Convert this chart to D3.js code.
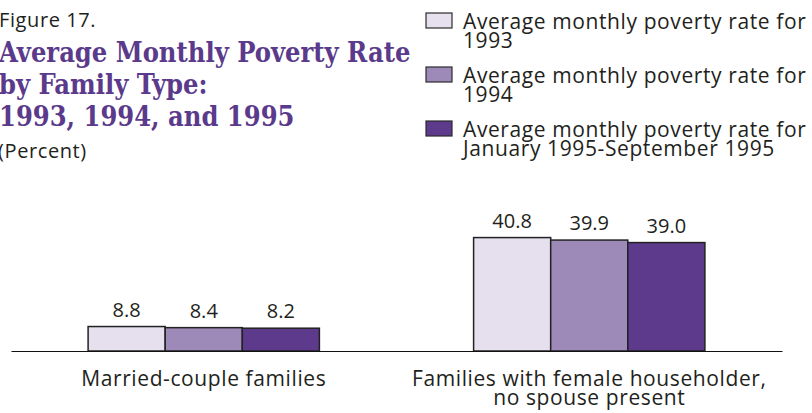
<!DOCTYPE html>
<html>
<head>
<meta charset="utf-8">
<script src="https://cdn.jsdelivr.net/npm/d3@7/dist/d3.min.js"></script>
<style>
  html, body { margin: 0; padding: 0; background: #fff; }
  svg { display: block; }
  .sans { font-family: "Open Sans", "DejaVu Sans", sans-serif; fill: #231f20; letter-spacing: 0.6px; }
  .num { font-family: "Open Sans", "DejaVu Sans", sans-serif; fill: #231f20; }
  .title { font-family: "DejaVu Serif Condensed", "DejaVu Serif", serif; font-stretch: condensed; font-weight: bold; fill: #5b3a8c; }
</style>
</head>
<body>
<div id="chart"></div>
<script>
// data
const categories = ['Married-couple families', 'Families with female householder,\nno spouse present'];
const seriesNames = [
  'Average monthly poverty rate for\n1993',
  'Average monthly poverty rate for\n1994',
  'Average monthly poverty rate for\nJanuary 1995-September 1995',
];
const rate1993 = [8.8, 40.8];
const rate1994 = [8.4, 39.9];
const rate1995 = [8.2, 39.0];
const valueLabels = [['8.8', '40.8'], ['8.4', '39.9'], ['8.2', '39.0']];
const titleLines = ['Average Monthly Poverty Rate', 'by Family Type:', '1993, 1994, and 1995'];

const COLORS = ['#e6e0ee', '#9d8ab9', '#5d3a8b'];
const series = [rate1993, rate1994, rate1995];

const width = 812;
const height = 413;

const svg = d3.select('#chart').append('svg').attr('width', width).attr('height', height);

// header
svg.append('text').attr('class', 'sans').attr('x', -1).attr('y', 27).attr('font-size', 20).text('Figure 17.');
svg.append('g')
  .selectAll('text')
  .data(titleLines)
  .join('text')
  .attr('class', 'title')
  .attr('x', -1)
  .attr('y', (d, i) => 62 + i * 32)
  .attr('font-size', 27)
  .text((d) => d);
svg.append('text').attr('class', 'sans').attr('x', -2).attr('y', 158).attr('font-size', 20).text('(Percent)');

// legend
const legend = svg.append('g').attr('transform', 'translate(426,13)');
const item = legend
  .selectAll('g')
  .data(seriesNames)
  .join('g')
  .attr('transform', (d, i) => `translate(0,${i * 54})`);
item.append('rect')
  .attr('width', 26)
  .attr('height', 15)
  .attr('fill', (d, i) => COLORS[i])
  .attr('stroke', '#2b2b2b')
  .attr('stroke-width', 1.2);
item.append('text')
  .attr('class', 'sans')
  .attr('font-size', 21)
  .selectAll('tspan')
  .data((d) => d.split('\n'))
  .join('tspan')
  .attr('x', 37)
  .attr('y', (d, i) => 16 + i * 19)
  .text((d) => d);

// scales
const x0 = d3.scaleBand().domain(categories).range([11, 782]).padding(0);
const x1 = d3.scaleBand().domain(d3.range(series.length)).range([0, x0.bandwidth()]).paddingInner(0).paddingOuter(1);
const y = d3.scaleLinear().domain([0, 45]).range([351, 351 - 45 * 2.78]);

const groups = svg.append('g')
  .selectAll('g')
  .data(categories)
  .join('g')
  .attr('transform', (d) => `translate(${x0(d)},0)`);

groups.selectAll('rect')
  .data((d, ci) => series.map((s, si) => ({ si, v: s[ci], label: valueLabels[si][ci] })))
  .join('rect')
  .attr('x', (d) => x1(d.si))
  .attr('y', (d) => y(d.v))
  .attr('width', x1.bandwidth())
  .attr('height', (d) => y(0) - y(d.v))
  .attr('fill', (d) => COLORS[d.si])
  .attr('stroke', '#222')
  .attr('stroke-width', 1.5);

groups.selectAll('text')
  .data((d, ci) => series.map((s, si) => ({ si, v: s[ci], label: valueLabels[si][ci] })))
  .join('text')
  .attr('class', 'num')
  .attr('font-size', 20)
  .attr('text-anchor', 'middle')
  .attr('x', (d) => x1(d.si) + x1.bandwidth() / 2)
  .attr('y', (d) => y(d.v) - 10)
  .text((d) => d.label);

// axis
const axis = svg.append('g')
  .attr('transform', `translate(0,${y(0)})`)
  .call(d3.axisBottom(x0).tickSize(0).tickSizeOuter(0).tickFormat(''));
axis.select('.domain').attr('stroke', '#111').attr('stroke-width', 1.2);
axis.selectAll('.tick text').remove();
axis.selectAll('.tick')
  .append('text')
  .attr('class', 'sans')
  .attr('font-size', 21)
  .attr('text-anchor', 'middle')
  .selectAll('tspan')
  .data((d) => d.split('\n'))
  .join('tspan')
  .attr('x', 0)
  .attr('y', (d, i) => 35 + i * 19)
  .text((d) => d);
</script>
</body>
</html>
